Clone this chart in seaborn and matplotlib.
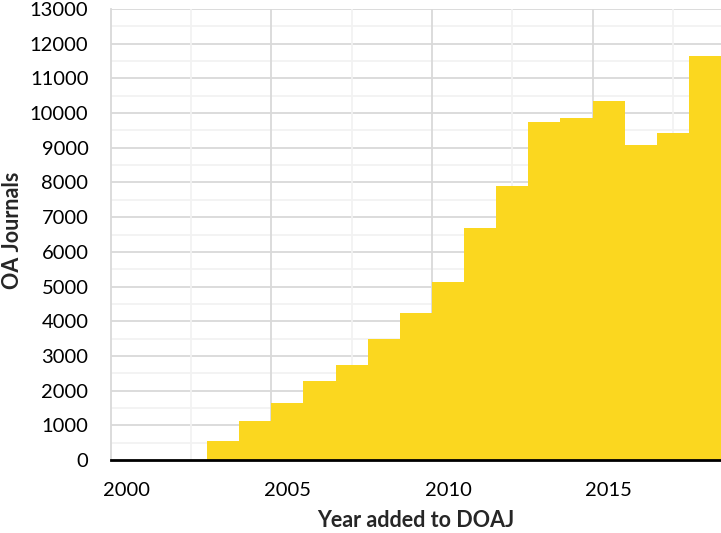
import numpy as np
import pandas as pd
import matplotlib
matplotlib.use("Agg")
import matplotlib.pyplot as plt
import seaborn as sns

years = list(range(2000, 2019))
journals = [0, 0, 0, 540, 1120, 1640, 2280, 2740, 3490, 4240, 5130,
            6690, 7900, 9750, 9860, 10350, 9080, 9420, 11650]
xtick_years = [2000, 2005, 2010, 2015]
YELLOW = "#FBD71F"
GRID_DARK = "#D9D9D9"
GRID_LIGHT = "#F2F2F2"

sns.set_style("white")
plt.rcParams["font.family"] = ["Lato", "DejaVu Sans"]

df = pd.DataFrame({"year": years, "n": journals})

fig = plt.figure(figsize=(7.21, 5.33), dpi=100)
ax = fig.add_axes([0.1535, 0.137, 0.8465, 0.846])

# gridlines (drawn under the area)
for v in np.arange(500, 13001, 500):
    ax.axhline(v, color=GRID_DARK if v % 1000 == 0 else GRID_LIGHT, lw=1.3, zorder=0)
for i, v in enumerate(np.arange(2002, 2018.5, 2.5)):
    ax.axvline(v, color=GRID_LIGHT if i % 2 == 0 else GRID_DARK, lw=1.3, zorder=0)

sns.histplot(data=df, x="year", weights="n", discrete=True, element="step",
             fill=True, color=YELLOW, alpha=1, linewidth=0, ax=ax, zorder=2)

ax.set_xlim(1999.5, 2018.5)
ax.set_ylim(0, 13000)
ax.set_xticks(xtick_years)
ax.set_yticks(range(0, 13001, 1000))
ax.tick_params(axis="both", length=0, labelsize=14.5, colors="black")
ax.tick_params(axis="x", pad=16)
ax.tick_params(axis="y", pad=16)

ax.set_xlabel("Year added to DOAJ", fontsize=15.5, fontweight="bold")
ax.set_ylabel("OA Journals", fontsize=15.5, fontweight="bold")
ax.xaxis.set_label_coords(0.5, -0.112)
ax.yaxis.set_label_coords(-0.143, 0.51)

for s in ["top", "right"]:
    ax.spines[s].set_visible(False)
ax.spines["left"].set_color(GRID_DARK)
ax.spines["left"].set_linewidth(1.3)
ax.spines["bottom"].set_color("black")
ax.spines["bottom"].set_linewidth(2)
ax.spines["bottom"].set_zorder(3)

fig.savefig("out.png", dpi=100)
